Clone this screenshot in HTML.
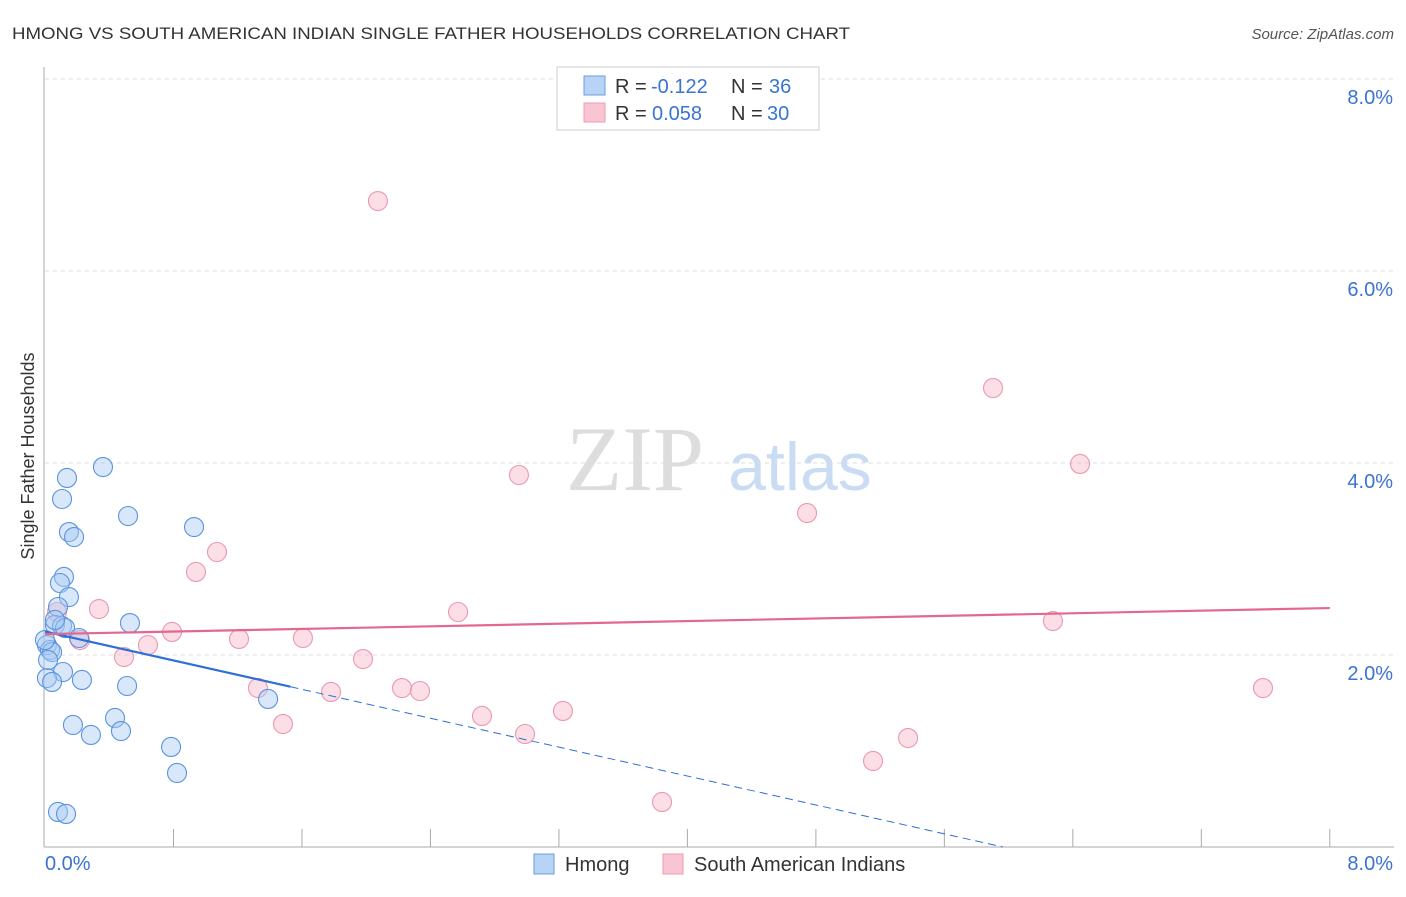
<!DOCTYPE html>
<html><head><meta charset="utf-8"><style>
body{margin:0;background:#fff;font-family:"Liberation Sans",sans-serif}
</style></head><body>
<svg id="c" width="1406" height="892" xmlns="http://www.w3.org/2000/svg" font-family="Liberation Sans, sans-serif">
<text x="12" y="39" font-size="17" fill="#333" textLength="838" lengthAdjust="spacingAndGlyphs">HMONG VS SOUTH AMERICAN INDIAN SINGLE FATHER HOUSEHOLDS CORRELATION CHART</text>
<text x="1394" y="39" font-size="15" fill="#555" font-style="italic" text-anchor="end">Source: ZipAtlas.com</text>
<text x="635" y="490" font-size="92" fill="#ddd" font-family="Liberation Serif, serif" text-anchor="middle">ZIP</text>
<text x="800" y="490" font-size="68" fill="#c9dcf3" text-anchor="middle">atlas</text>
<text x="34" y="456" font-size="18" fill="#333" text-anchor="middle" transform="rotate(-90 34 456)">Single Father Households</text>
<g id="grid"></g><g id="axes"></g><g id="pts"></g><g id="lines"></g>
<g>
<rect x="557" y="67" width="262" height="63" fill="#fff" stroke="#ccc"/>
<rect x="584" y="76" width="21" height="19" fill="#b8d3f5" stroke="#6b9de0"/>
<rect x="584" y="103" width="21" height="19" fill="#f9c5d3" stroke="#ec9cb4"/>
<text x="615" y="93" font-size="20" fill="#333">R =</text>
<text x="651" y="93" font-size="20" fill="#3a73d4">-0.122</text>
<text x="731" y="93" font-size="20" fill="#333">N =</text>
<text x="769" y="93" font-size="20" fill="#3a73d4">36</text>
<text x="615" y="120" font-size="20" fill="#333">R =</text>
<text x="652" y="120" font-size="20" fill="#3a73d4">0.058</text>
<text x="731" y="120" font-size="20" fill="#333">N =</text>
<text x="767" y="120" font-size="20" fill="#3a73d4">30</text>
</g>
<g>
<rect x="534" y="854" width="20" height="20" fill="#b8d3f5" stroke="#6b9de0"/>
<text x="565" y="871" font-size="20" fill="#333">Hmong</text>
<rect x="663" y="854" width="20" height="20" fill="#f9c5d3" stroke="#ec9cb4"/>
<text x="694" y="871" font-size="20" fill="#333">South American Indians</text>
</g>
</svg>
<script>
const hmongX=[0.361,0.137,0.106,0.517,0.928,0.149,0.181,0.118,0.093,0.149,0.081,0.529,0.062,0.106,0.125,0.212,0.012,0.031,0.044,0.112,0.230,0.012,0.044,0.511,1.389,0.174,0.436,0.286,0.473,0.785,0.822,0.081,0.131,0.0,0.062,0.019];
const hmongY=[3.958,3.844,3.625,3.448,3.333,3.281,3.229,2.813,2.75,2.604,2.5,2.333,2.313,2.302,2.281,2.177,2.104,2.052,2.031,1.823,1.740,1.760,1.719,1.677,1.542,1.271,1.344,1.167,1.208,1.042,0.771,0.365,0.344,2.156,2.365,1.948];
const saiX=[2.073,5.903,6.445,2.951,4.745,1.071,0.940,0.336,2.572,0.791,1.208,1.606,0.641,0.492,1.980,0.075,0.218,1.326,1.781,2.223,2.335,6.276,7.584,3.225,2.721,2.989,1.482,5.374,5.156,3.842];
const saiY=[6.729,4.781,3.990,3.875,3.479,3.073,2.865,2.479,2.448,2.240,2.167,2.177,2.104,1.979,1.958,2.448,2.156,1.656,1.615,1.656,1.625,2.354,1.656,1.417,1.365,1.177,1.281,1.135,0.896,0.469];
const yTicks=[2,4,6,8];
const yTickLabels=["2.0%","4.0%","6.0%","8.0%"];
const NS="http://www.w3.org/2000/svg";
const sx=v=>45+v*160.6, sy=v=>847-v*96;
function mk(t,a,p){const e=document.createElementNS(NS,t);for(const k in a)e.setAttribute(k,a[k]);document.getElementById(p).appendChild(e);return e;}
yTicks.forEach((t,i)=>{
 const g=mk('line',{x1:45,x2:1394,y1:sy(t),y2:sy(t),stroke:'#ddd','stroke-dasharray':'4,4'},'grid');
 
 
 const l=mk('text',{x:1393,y:sy(t)+25,'font-size':20,fill:'#3a73d4','text-anchor':'end'},'axes');
 l.textContent=yTickLabels[i];
 
 
});
let a=mk('line',{x1:44,x2:44,y1:67,y2:847,stroke:'#aaa'},'axes');


a=mk('line',{x1:44,x2:1394,y1:847,y2:847,stroke:'#aaa'},'axes');


for(let i=1;i<=10;i++){const t=mk('line',{x1:sx(i*0.8),x2:sx(i*0.8),y1:829,y2:847,stroke:'#aaa'},'axes');
 
 }
let xl=mk('text',{x:45,y:870,'font-size':20,fill:'#3a73d4'},'axes');xl.textContent='0.0%';


xl=mk('text',{x:1393,y:870,'font-size':20,fill:'#3a73d4','text-anchor':'end'},'axes');xl.textContent='8.0%';


function dots(X,Y,fill,stroke,name){X.forEach((x,i)=>{const c=mk('circle',{cx:sx(x),cy:sy(Y[i]),r:9.5,fill:fill,'fill-opacity':0.45,stroke:stroke,'stroke-width':1.1},'pts');
 
 });}
dots(saiX,saiY,'#f7b6c8','#eb98b1','point-south-american-indians');
dots(hmongX,hmongY,'#a9c9f1','#5b93e0','point-hmong');
function fit(X,Y){const n=X.length,mx=X.reduce((s,v)=>s+v,0)/n,my=Y.reduce((s,v)=>s+v,0)/n;let sxy=0,sxx=0;X.forEach((x,i)=>{sxy+=(x-mx)*(Y[i]-my);sxx+=(x-mx)**2});const b=sxy/sxx;return [my-b*mx,b];}
const [ha,hb]=fit(hmongX,hmongY), [pa,pb]=fit(saiX,saiY);
const hmax=Math.max(...hmongX)*1.1, hend=Math.min(8,-ha/hb>0?-ha/hb:8);
let ln=mk('line',{x1:sx(0),y1:sy(ha),x2:sx(hmax),y2:sy(ha+hb*hmax),stroke:'#2f6fd6','stroke-width':2.2},'lines');


ln=mk('line',{x1:sx(hmax),y1:sy(ha+hb*hmax),x2:sx(hend),y2:sy(ha+hb*hend),stroke:'#2f6fd6','stroke-width':1,'stroke-dasharray':'8,5'},'lines');


ln=mk('line',{x1:sx(0),y1:sy(pa),x2:sx(8),y2:sy(pa+pb*8),stroke:'#e4678f','stroke-width':2.2},'lines');


</script>
</body></html>
